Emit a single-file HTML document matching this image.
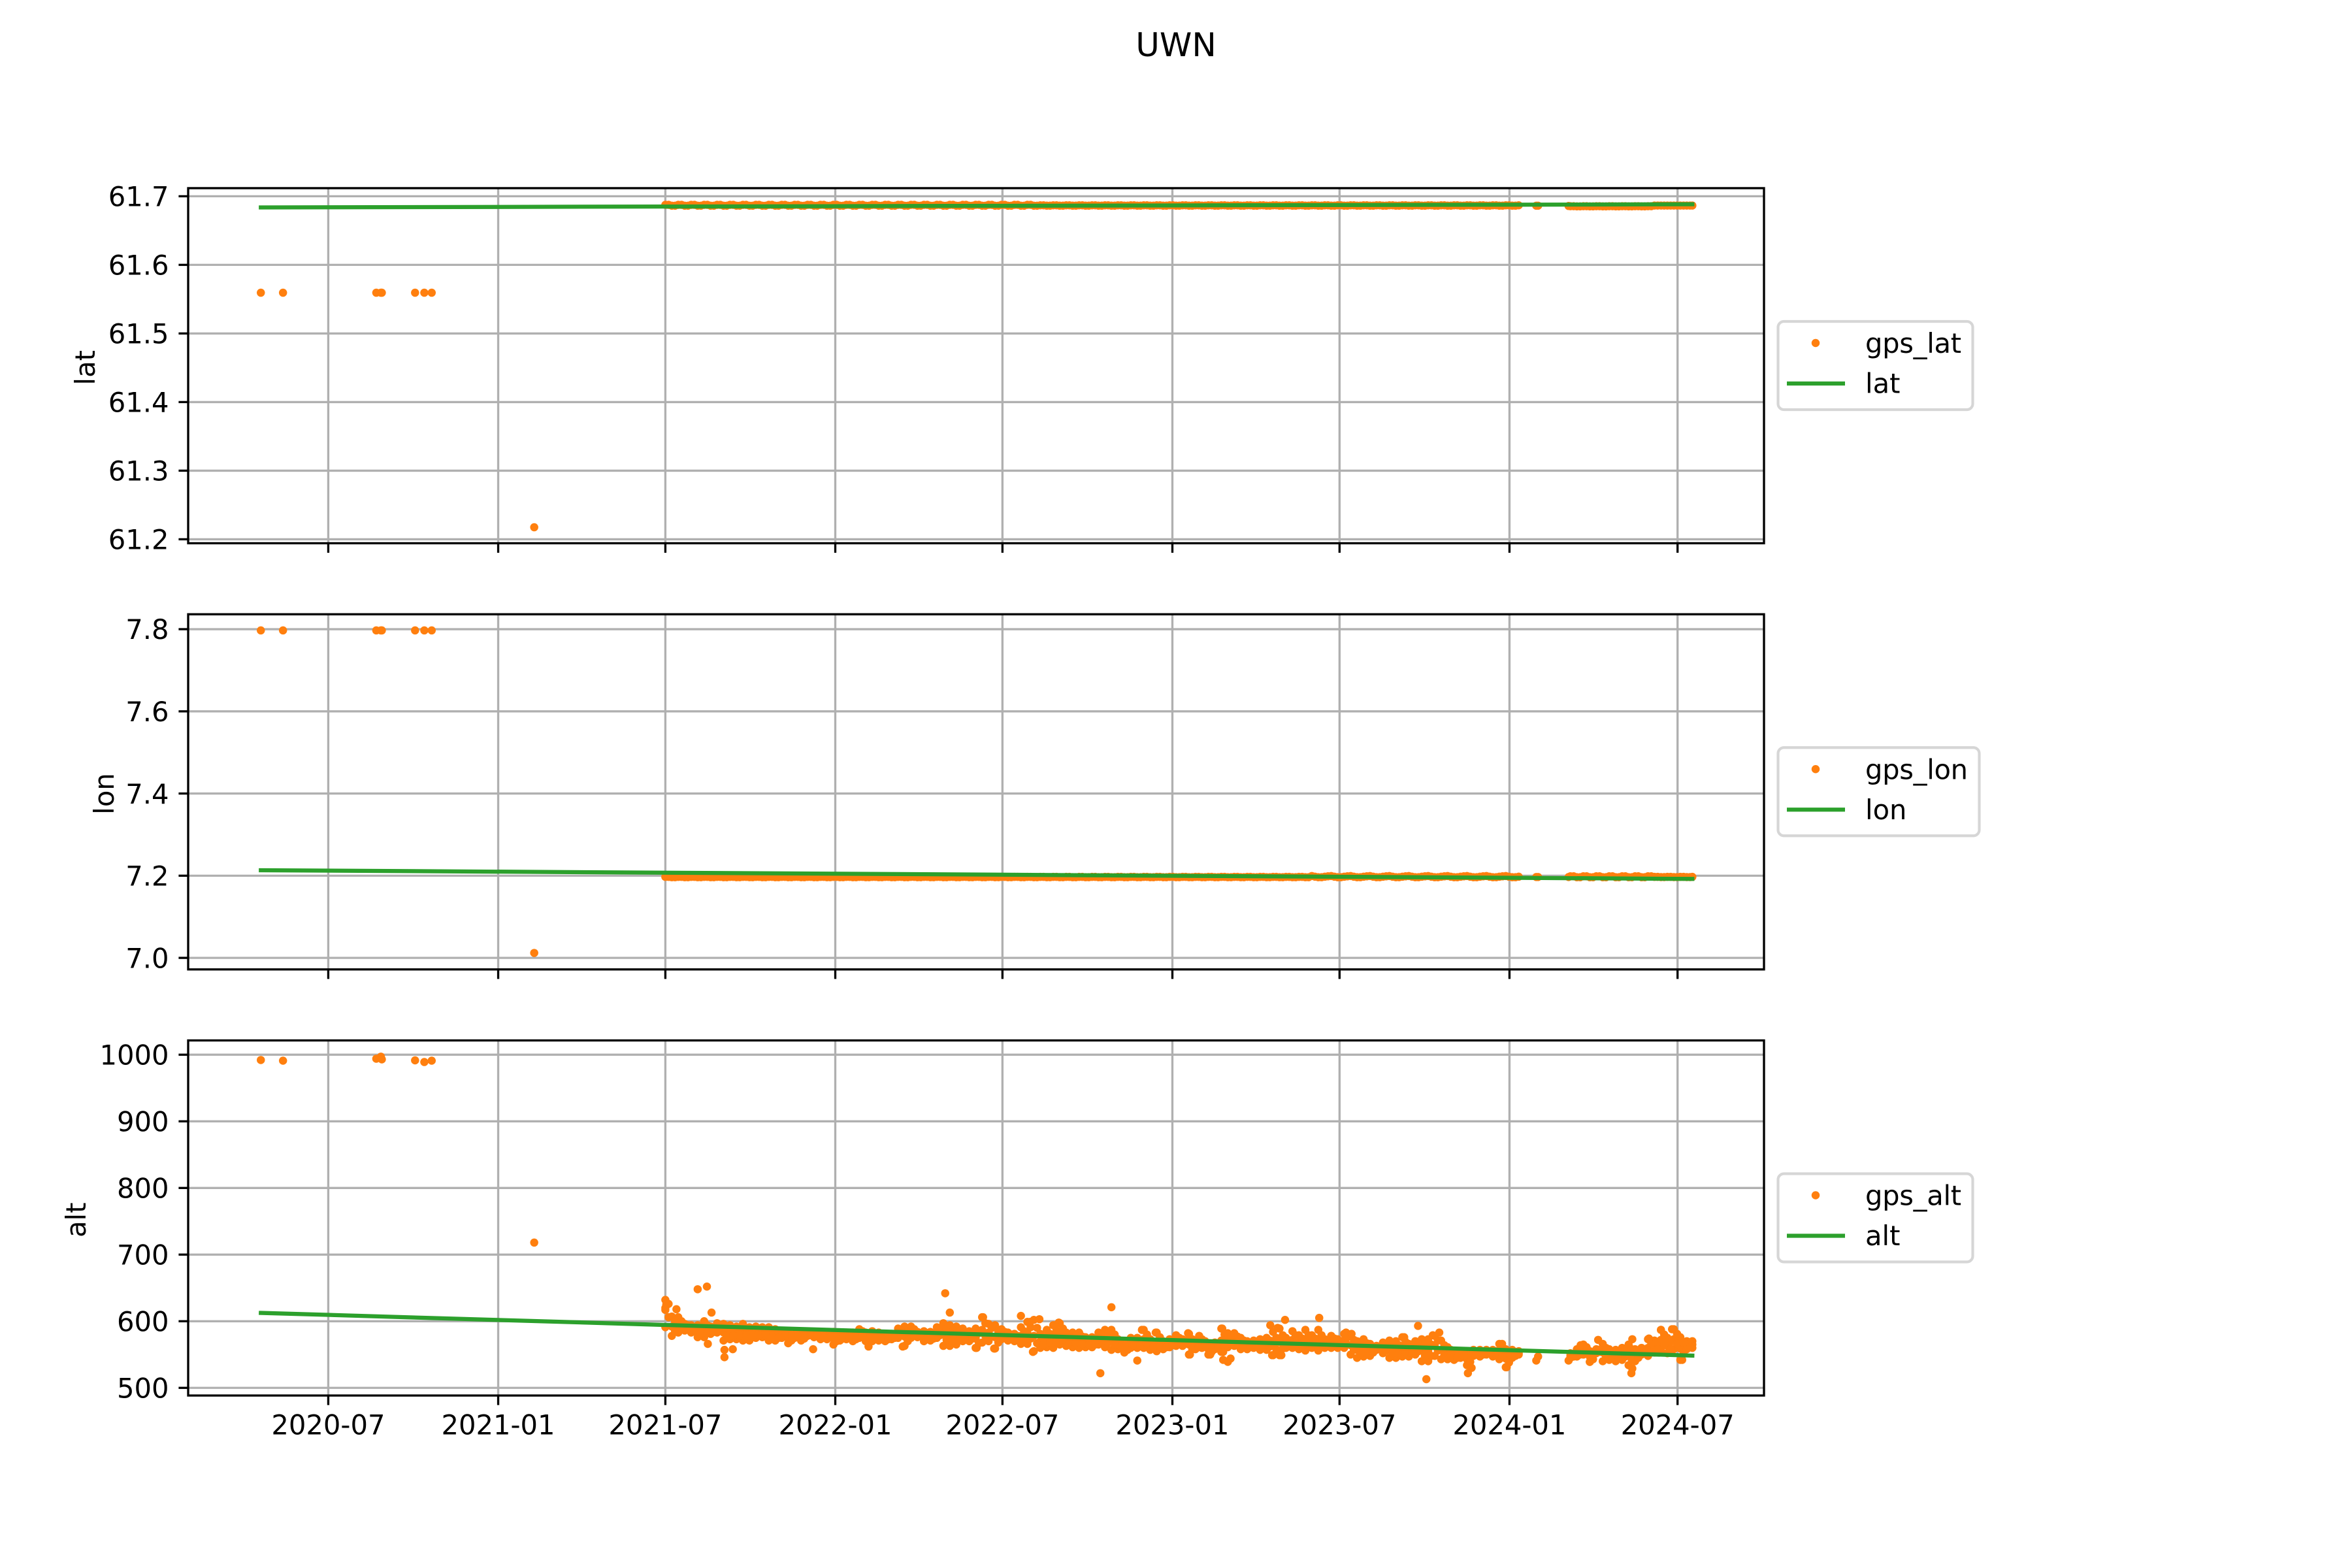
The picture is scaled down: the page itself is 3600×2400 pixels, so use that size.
<!DOCTYPE html>
<html lang="en">
<head>
<meta charset="utf-8">
<title>UWN</title>
<style>
html,body{margin:0;padding:0;background:#fff;}
svg{display:block;}
text{font-family:"DejaVu Sans","Liberation Sans",sans-serif;fill:#000;}
.tight{letter-spacing:-0.3px;}
</style>
</head>
<body>
<svg id="chart" xmlns="http://www.w3.org/2000/svg" width="3600" height="2400" viewBox="0 0 3600 2400">
  <rect x="0" y="0" width="3600" height="2400" fill="#ffffff"/>
  <text x="1800" y="86" font-size="50" text-anchor="middle">UWN</text>
  <g id="plots"></g>

  <g>
    <rect x="2721.5" y="492" width="298" height="135" rx="9" fill="#fff" stroke="#d6d6d6" stroke-width="4.17"/>
    <circle cx="2779" cy="525" r="6.25" fill="#ff7f0e"/>
    <text class="tight" x="2855" y="540" font-size="41.67">gps_lat</text>
    <line x1="2735" x2="2824" y1="587" y2="587" stroke="#2ca02c" stroke-width="6.25"/>
    <text x="2855" y="601.5" font-size="41.67">lat</text>
  </g>
  <g transform="translate(0,652.25)">
    <rect x="2721.5" y="492" width="308" height="135" rx="9" fill="#fff" stroke="#d6d6d6" stroke-width="4.17"/>
    <circle cx="2779" cy="525" r="6.25" fill="#ff7f0e"/>
    <text class="tight" x="2855" y="540" font-size="41.67">gps_lon</text>
    <line x1="2735" x2="2824" y1="587" y2="587" stroke="#2ca02c" stroke-width="6.25"/>
    <text x="2855" y="601.5" font-size="41.67">lon</text>
  </g>
  <g transform="translate(0,1304.5)">
    <rect x="2721.5" y="492" width="298" height="135" rx="9" fill="#fff" stroke="#d6d6d6" stroke-width="4.17"/>
    <circle cx="2779" cy="525" r="6.25" fill="#ff7f0e"/>
    <text class="tight" x="2855" y="540" font-size="41.67">gps_alt</text>
    <line x1="2735" x2="2824" y1="587" y2="587" stroke="#2ca02c" stroke-width="6.25"/>
    <text x="2855" y="601.5" font-size="41.67">alt</text>
  </g>
</svg>

<script>
// All days are counted from 2021-07-01.
const x_tick_days = [-365,-181,0,184,365,549,730,914,1096];
const x_tick_labels = ["2020-07","2021-01","2021-07","2022-01","2022-07","2023-01","2023-07","2024-01","2024-07"];
const lat_ticks = [61.2,61.3,61.4,61.5,61.6,61.7];
const lat_tick_labels = ["61.2","61.3","61.4","61.5","61.6","61.7"];
const lon_ticks = [7.0,7.2,7.4,7.6,7.8];
const lon_tick_labels = ["7.0","7.2","7.4","7.6","7.8"];
const alt_ticks = [500,600,700,800,900,1000];
const alt_tick_labels = ["500","600","700","800","900","1000"];

// Fitted trend lines
const line_days = [-438,1112];
const line_lat = [61.6837,61.6883];
const line_lon = [7.2133,7.1922];
const line_alt = [612.5,548.4];

// Isolated early GPS fixes
const early_days = [-438,-414,-313,-308,-307,-271,-261,-253,-142];
const early_lat = [61.5594,61.5594,61.5594,61.5594,61.5594,61.5594,61.5594,61.5594,61.2175];
const early_lon = [7.797,7.797,7.797,7.797,7.797,7.797,7.797,7.797,7.012];
const early_alt = [992,991,994,997,993,991.5,989,991,718];

// Lone fixes inside the early-2024 gap
const lone_days = [943,945,978];
const lone_lat = [61.6862,61.6862,61.6858];
const lone_lon = [7.1968,7.1968,7.1968];

// Main GPS record, weekly readings
const sample_days = [
0,7,14,21,28,35,42,49,56,63,
70,77,84,91,98,105,112,119,126,133,
140,147,154,161,168,175,182,189,196,203,
210,217,224,231,238,245,252,259,266,273,
280,287,294,301,308,315,322,329,336,343,
350,357,364,371,378,385,392,399,406,413,
420,427,434,441,448,455,462,469,476,483,
490,497,504,511,518,525,532,539,546,553,
560,567,574,581,588,595,602,609,616,623,
630,637,644,651,658,665,672,679,686,693,
700,707,714,721,728,735,742,749,756,763,
770,777,784,791,798,805,812,819,826,833,
840,847,854,861,868,875,882,889,896,903,
910,917,924,931,938,945,952,959,966,973,
980,987,994,1001,1008,1015,1022,1029,1036,1043,
1050,1057,1064,1071,1078,1085,1092,1099,1106,1112];

const sample_lat = [
61.6875,61.6862,61.6875,61.6862,61.6875,61.6862,61.6875,61.6862,61.6875,61.6862,
61.6875,61.6862,61.6875,61.6862,61.6875,61.6862,61.6875,61.6862,61.6875,61.6862,
61.6875,61.6862,61.6875,61.6862,61.6875,61.6862,61.6875,61.6862,61.6875,61.6862,
61.6875,61.6862,61.6875,61.6862,61.6875,61.6862,61.6875,61.6862,61.6875,61.6862,
61.6875,61.6862,61.6875,61.6862,61.6875,61.6862,61.6875,61.6862,61.6875,61.6862,
61.6875,61.6862,61.6875,61.6862,61.6875,61.6862,61.6875,61.6862,61.6868,61.6863,
61.6868,61.6863,61.6868,61.6863,61.6868,61.6863,61.6868,61.6863,61.6868,61.6863,
61.6868,61.6863,61.6868,61.6863,61.6868,61.6863,61.6868,61.6863,61.6868,61.6863,
61.6868,61.6863,61.6868,61.6863,61.6868,61.6863,61.6868,61.6863,61.6868,61.6863,
61.6868,61.6863,61.6868,61.6863,61.6868,61.6863,61.6868,61.6863,61.6868,61.6863,
61.6868,61.6863,61.6868,61.6863,61.6868,61.6863,61.6868,61.6863,61.6868,61.6863,
61.6868,61.6863,61.6868,61.6863,61.6868,61.6863,61.6868,61.6863,61.6868,61.6863,
61.6868,61.6863,61.6868,61.6863,61.6868,61.6863,61.6868,61.6863,61.6868,61.6863,
61.6868,61.6863,61.6868,null,null,null,null,null,null,null,
61.6855,61.6853,61.6855,61.6853,61.6855,61.6853,61.6855,61.6853,61.6855,61.6853,
61.6855,61.6853,61.6855,61.6865,61.6865,61.6865,61.6865,61.6865,61.6865,61.6865];

const sample_lon = [
7.1971,7.1963,7.1971,7.1963,7.1971,7.1963,7.1971,7.1963,7.1971,7.1963,
7.1971,7.1963,7.1971,7.1963,7.1971,7.1963,7.1971,7.1963,7.1971,7.1963,
7.1971,7.1963,7.1971,7.1963,7.1971,7.1963,7.1971,7.1963,7.1971,7.1963,
7.1971,7.1963,7.1971,7.1963,7.1971,7.1963,7.1971,7.1963,7.1971,7.1963,
7.1971,7.1963,7.1971,7.1963,7.1971,7.1963,7.1971,7.1963,7.1971,7.1963,
7.1971,7.1963,7.1971,7.1963,7.1971,7.1963,7.1971,7.1963,7.1971,7.1963,
7.1971,7.1963,7.1971,7.1963,7.1971,7.1963,7.1971,7.1963,7.1971,7.1963,
7.1971,7.1963,7.1971,7.1963,7.1971,7.1963,7.1971,7.1963,7.1971,7.1963,
7.1971,7.1963,7.1971,7.1963,7.1971,7.1963,7.1971,7.1963,7.1971,7.1963,
7.1971,7.1963,7.1971,7.1963,7.1971,7.1963,7.1971,7.1963,7.1971,7.1963,
7.1992,7.1963,7.1975,7.1992,7.1963,7.1975,7.1992,7.1963,7.1975,7.1992,
7.1963,7.1975,7.1992,7.1963,7.1975,7.1992,7.1963,7.1975,7.1992,7.1963,
7.1975,7.1992,7.1963,7.1975,7.1992,7.1963,7.1975,7.1992,7.1963,7.1975,
7.1992,7.1963,7.1975,null,null,null,null,null,null,null,
7.1986,7.1963,7.1986,7.1963,7.1986,7.1963,7.1986,7.1963,7.1986,7.1963,
7.1986,7.1963,7.1986,7.1971,7.1966,7.1971,7.1966,7.1971,7.1966,7.1971];

const sample_alt_upper = [
632,607,606,596,594,594,600,592,597,596,
594,592,596,591,592,591,591,588,584,583,
581,581,583,583,581,583,584,583,583,583,
588,583,585,583,581,581,589,592,592,584,
585,584,591,597,594,592,589,585,589,606,
596,594,588,583,581,591,599,602,581,587,
594,597,583,583,583,576,576,583,587,587,
573,570,575,575,587,573,583,570,573,579,
573,581,571,573,567,568,589,582,582,575,
570,571,573,575,584,589,575,585,579,587,
579,587,573,578,573,581,579,570,573,566,
563,568,571,570,576,566,570,573,573,578,
571,561,555,555,552,557,557,557,557,566,
558,557,555,null,null,null,null,null,null,null,
552,558,565,555,558,566,558,557,560,565,
558,560,573,571,587,575,588,576,570,570];

const sample_alt_middle = [
620,592,594,591,588,585,588,586,590,583,
583,582,583,581,583,583,581,579,579,575,
578,576,580,579,577,578,574,577,578,576,
581,576,577,577,575,577,582,577,583,580,
577,577,583,580,578,578,579,577,574,587,
583,576,580,577,575,578,582,578,570,574,
577,581,573,572,571,568,568,574,574,572,
565,561,567,567,573,565,569,564,567,571,
568,565,564,566,558,563,571,571,572,566,
564,565,565,566,566,569,567,572,568,571,
569,571,566,569,566,570,564,557,560,557,
560,560,558,557,561,556,560,556,556,563,
557,553,548,550,543,552,552,553,552,554,
544,551,552,null,null,null,null,null,null,null,
548,552,557,547,555,553,550,548,551,550,
549,555,560,562,572,563,573,559,564,565];

const sample_alt_lower = [
591,578,583,586,583,576,576,581,583,571,
573,573,571,571,575,576,571,571,575,567,
575,571,578,576,573,573,565,571,573,570,
575,570,570,571,570,573,575,563,575,576,
570,571,575,563,563,565,570,570,560,568,
570,559,573,571,570,566,566,555,560,561,
560,565,563,561,560,561,561,565,561,557,
558,553,560,560,560,557,555,558,561,563,
563,550,558,560,550,558,554,561,563,558,
558,560,557,557,549,549,560,560,558,556,
560,556,560,560,560,560,550,545,547,548,
557,552,545,545,547,547,550,540,540,548,
543,543,542,545,534,548,547,550,547,543,
531,545,550,null,null,null,null,null,null,null,
545,547,550,539,552,540,542,540,542,534,
540,550,548,553,557,552,558,542,558,560];

// Main GPS record, readings between the weekly ones
const between_days = [
3.5,10.5,17.5,24.5,31.5,38.5,45.5,52.5,59.5,66.5,
73.5,80.5,87.5,94.5,101.5,108.5,115.5,122.5,129.5,136.5,
143.5,150.5,157.5,164.5,171.5,178.5,185.5,192.5,199.5,206.5,
213.5,220.5,227.5,234.5,241.5,248.5,255.5,262.5,269.5,276.5,
283.5,290.5,297.5,304.5,311.5,318.5,325.5,332.5,339.5,346.5,
353.5,360.5,367.5,374.5,381.5,388.5,395.5,402.5,409.5,416.5,
423.5,430.5,437.5,444.5,451.5,458.5,465.5,472.5,479.5,486.5,
493.5,500.5,507.5,514.5,521.5,528.5,535.5,542.5,549.5,556.5,
563.5,570.5,577.5,584.5,591.5,598.5,605.5,612.5,619.5,626.5,
633.5,640.5,647.5,654.5,661.5,668.5,675.5,682.5,689.5,696.5,
703.5,710.5,717.5,724.5,731.5,738.5,745.5,752.5,759.5,766.5,
773.5,780.5,787.5,794.5,801.5,808.5,815.5,822.5,829.5,836.5,
843.5,850.5,857.5,864.5,871.5,878.5,885.5,892.5,899.5,906.5,
913.5,920.5,927.5,934.5,941.5,948.5,955.5,962.5,969.5,976.5,
983.5,990.5,997.5,1004.5,1011.5,1018.5,1025.5,1032.5,1039.5,1046.5,
1053.5,1060.5,1067.5,1074.5,1081.5,1088.5,1095.5,1102.5,1109.5];

const between_lat = [
61.6875,61.6862,61.6875,61.6862,61.6875,61.6862,61.6875,61.6862,61.6875,61.6862,
61.6875,61.6862,61.6875,61.6862,61.6875,61.6862,61.6875,61.6862,61.6875,61.6862,
61.6875,61.6862,61.6875,61.6862,61.6875,61.6862,61.6875,61.6862,61.6875,61.6862,
61.6875,61.6862,61.6875,61.6862,61.6875,61.6862,61.6875,61.6862,61.6875,61.6862,
61.6875,61.6862,61.6875,61.6862,61.6875,61.6862,61.6875,61.6862,61.6875,61.6862,
61.6875,61.6862,61.6875,61.6862,61.6875,61.6862,61.6875,61.6862,61.6868,61.6863,
61.6868,61.6863,61.6868,61.6863,61.6868,61.6863,61.6868,61.6863,61.6868,61.6863,
61.6868,61.6863,61.6868,61.6863,61.6868,61.6863,61.6868,61.6863,61.6868,61.6863,
61.6868,61.6863,61.6868,61.6863,61.6868,61.6863,61.6868,61.6863,61.6868,61.6863,
61.6868,61.6863,61.6868,61.6863,61.6868,61.6863,61.6868,61.6863,61.6868,61.6863,
61.6868,61.6863,61.6868,61.6863,61.6868,61.6863,61.6868,61.6863,61.6868,61.6863,
61.6868,61.6863,61.6868,61.6863,61.6868,61.6863,61.6868,61.6863,61.6868,61.6863,
61.6868,61.6863,61.6868,61.6863,61.6868,61.6863,61.6868,61.6863,61.6868,61.6863,
61.6868,61.6863,null,null,null,null,null,null,null,null,
61.6855,61.6853,61.6855,61.6853,61.6855,61.6853,61.6855,61.6853,61.6855,61.6853,
61.6855,61.6853,61.6855,61.6865,61.6865,61.6865,61.6865,61.6865,61.6865];

const between_lon = [
7.1971,7.1963,7.1971,7.1963,7.1971,7.1963,7.1971,7.1963,7.1971,7.1963,
7.1971,7.1963,7.1971,7.1963,7.1971,7.1963,7.1971,7.1963,7.1971,7.1963,
7.1971,7.1963,7.1971,7.1963,7.1971,7.1963,7.1971,7.1963,7.1971,7.1963,
7.1971,7.1963,7.1971,7.1963,7.1971,7.1963,7.1971,7.1963,7.1971,7.1963,
7.1971,7.1963,7.1971,7.1963,7.1971,7.1963,7.1971,7.1963,7.1971,7.1963,
7.1971,7.1963,7.1971,7.1963,7.1971,7.1963,7.1971,7.1963,7.1971,7.1963,
7.1971,7.1963,7.1971,7.1963,7.1971,7.1963,7.1971,7.1963,7.1971,7.1963,
7.1971,7.1963,7.1971,7.1963,7.1971,7.1963,7.1971,7.1963,7.1971,7.1963,
7.1971,7.1963,7.1971,7.1963,7.1971,7.1963,7.1971,7.1963,7.1971,7.1963,
7.1971,7.1963,7.1971,7.1963,7.1971,7.1963,7.1971,7.1963,7.1971,7.1963,
7.1975,7.1963,7.1985,7.1975,7.1963,7.1985,7.1975,7.1963,7.1985,7.1975,
7.1963,7.1985,7.1975,7.1963,7.1985,7.1975,7.1963,7.1985,7.1975,7.1963,
7.1985,7.1975,7.1963,7.1985,7.1975,7.1963,7.1985,7.1975,7.1963,7.1985,
7.1975,7.1963,null,null,null,null,null,null,null,null,
7.1986,7.1963,7.1986,7.1963,7.1986,7.1963,7.1986,7.1963,7.1986,7.1963,
7.1986,7.1963,7.1986,7.1971,7.1966,7.1971,7.1966,7.1971,7.1966];

const between_alt_upper = [
626,600,600,594,591,590,594,589,594,590,
588,587,590,586,588,587,586,584,582,579,
580,579,582,581,579,581,579,580,581,580,
585,580,581,580,578,579,586,585,588,582,
581,581,587,589,586,585,584,581,582,597,
590,585,584,580,578,585,591,590,576,581,
586,589,578,578,577,572,572,579,581,580,
569,566,571,571,580,569,576,567,570,575,
571,573,568,570,563,566,580,577,577,571,
567,568,569,571,575,579,571,579,574,579,
574,579,570,574,570,576,572,564,567,562,
562,564,565,564,569,561,565,565,565,571,
564,557,552,553,548,555,555,555,555,560,
551,554,null,null,null,null,null,null,null,null,
550,555,561,551,557,560,554,553,556,558,
554,558,567,567,580,569,581,568,567];

const between_alt_lower = [
606,585,589,589,586,581,582,584,587,577,
578,578,577,576,579,580,576,575,577,571,
577,574,579,578,575,576,570,574,576,573,
578,573,574,574,573,575,579,570,579,578,
574,574,579,572,571,572,575,574,567,578,
577,568,577,574,573,572,574,567,565,568,
569,573,568,567,566,565,565,570,568,565,
562,557,564,564,567,561,562,561,564,567,
566,558,561,563,554,561,563,566,568,562,
561,563,561,562,558,559,564,566,563,564,
565,564,563,565,563,565,557,551,554,553,
559,556,552,551,554,552,555,548,548,556,
550,548,545,548,539,550,550,552,550,549,
538,548,null,null,null,null,null,null,null,null,
547,550,554,543,554,547,546,544,547,542,
545,553,554,558,565,558,566,551,561];

// Altitude readings that sit away from the main band
const outlier_days = [1,0,12,35,45,50,46,64,73,64,160,220,257,303,308,344,385,405,395,426,422,483,471,511,516,531,356,337,398,567,566,578,568,590,603,604,604,609,612,655,663,671,657,667,708,815,838,831,824,800,737,743,869,873,906,911,943,945,978,991,1010,1001,1047,1047,1046,1065,1078,1090,1101];
const outlier_alt = [625,617,618,648,652,613,566,557,558,546,558,562,562,642,613,606,608,603,599,598,594,621,522,541,587,583,559,560,554,550,582,578,550,550,589,554,542,539,544,594,590,602,549,549,605,593,583,579,513,576,583,581,522,530,566,531,541,547,541,564,572,539,573,529,522,574,587,588,542];

const SVG_NS = 'http://www.w3.org/2000/svg';
const plots = document.getElementById('plots');
const AX_LEFT = 288, AX_RIGHT = 2700;
const X_DAY_MIN = -516.7, X_DAY_MAX = 1189.6;

function xScale(day) {
  return AX_LEFT + (day - X_DAY_MIN) / (X_DAY_MAX - X_DAY_MIN) * (AX_RIGHT - AX_LEFT);
}
function linearY(top, bottom, vTop, vBottom) {
  return function (v) { return top + (vTop - v) / (vTop - vBottom) * (bottom - top); };
}
function drawGridLine(parent, x1, y1, x2, y2, name) {
  const el = document.createElementNS(SVG_NS, 'line');
  el.setAttribute('x1', x1); el.setAttribute('y1', y1);
  el.setAttribute('x2', x2); el.setAttribute('y2', y2);
  el.setAttribute('stroke', '#b0b0b0');
  el.setAttribute('stroke-width', '3.33');
  
  
  parent.appendChild(el);
}
function drawTick(parent, x1, y1, x2, y2, name) {
  const el = document.createElementNS(SVG_NS, 'line');
  el.setAttribute('x1', x1); el.setAttribute('y1', y1);
  el.setAttribute('x2', x2); el.setAttribute('y2', y2);
  el.setAttribute('stroke', '#000');
  el.setAttribute('stroke-width', '3.33');
  
  
  parent.appendChild(el);
}
function drawLabel(parent, x, y, str, anchor, name) {
  const el = document.createElementNS(SVG_NS, 'text');
  el.setAttribute('x', x); el.setAttribute('y', y);
  el.setAttribute('font-size', '41.67');
  el.setAttribute('text-anchor', anchor);
  el.textContent = str;
  
  
  parent.appendChild(el);
  return el;
}
function drawDots(parent, days, values, yScale) {
  for (let i = 0; i < days.length; i++) {
    if (values[i] === null) continue;
    const el = document.createElementNS(SVG_NS, 'circle');
    el.setAttribute('cx', xScale(days[i]).toFixed(2));
    el.setAttribute('cy', yScale(values[i]).toFixed(2));
    el.setAttribute('r', '6.25');
    el.setAttribute('fill', '#ff7f0e');
    
    
    parent.appendChild(el);
  }
}
function drawPanel(panelName, top, bottom, vTop, vBottom, ticks, tickLabels, showXLabels, yTitle, yTitleX, seriesSets, lineValues) {
  const g = document.createElementNS(SVG_NS, 'g');
  
  
  plots.appendChild(g);
  const y = linearY(top, bottom, vTop, vBottom);

  x_tick_days.forEach(function (d) {
    drawGridLine(g, xScale(d), top, xScale(d), bottom, 'x-gridline');
  });
  ticks.forEach(function (v) {
    drawGridLine(g, AX_LEFT, y(v), AX_RIGHT, y(v), 'y-gridline');
  });

  seriesSets.forEach(function (s) { drawDots(g, s[0], s[1], y); });

  const trend = document.createElementNS(SVG_NS, 'line');
  trend.setAttribute('x1', xScale(line_days[0]));
  trend.setAttribute('y1', y(lineValues[0]));
  trend.setAttribute('x2', xScale(line_days[1]));
  trend.setAttribute('y2', y(lineValues[1]));
  trend.setAttribute('stroke', '#2ca02c');
  trend.setAttribute('stroke-width', '6.25');
  trend.setAttribute('stroke-linecap', 'square');
  
  
  g.appendChild(trend);

  const frame = document.createElementNS(SVG_NS, 'rect');
  frame.setAttribute('x', AX_LEFT);
  frame.setAttribute('y', top);
  frame.setAttribute('width', AX_RIGHT - AX_LEFT);
  frame.setAttribute('height', bottom - top);
  frame.setAttribute('fill', 'none');
  frame.setAttribute('stroke', '#000');
  frame.setAttribute('stroke-width', '3.33');
  
  
  g.appendChild(frame);

  x_tick_days.forEach(function (d, i) {
    drawTick(g, xScale(d), bottom, xScale(d), bottom + 14.6, 'x-tick');
    if (showXLabels) drawLabel(g, xScale(d), bottom + 59.5, x_tick_labels[i], 'middle', 'x-tick-label');
  });
  ticks.forEach(function (v, i) {
    drawTick(g, AX_LEFT - 14.6, y(v), AX_LEFT, y(v), 'y-tick');
    drawLabel(g, 258.5, y(v) + 15.2, tickLabels[i], 'end', 'y-tick-label');
  });

  const cy = (top + bottom) / 2 + 3;
  const title = drawLabel(g, yTitleX, cy, yTitle, 'middle', 'y-axis-title');
  title.setAttribute('transform', 'rotate(-90 ' + yTitleX + ' ' + cy + ')');
}

drawPanel('lat-panel', 288, 831.5, 61.7118, 61.1942, lat_ticks, lat_tick_labels, false, 'lat', 145,
  [[early_days, early_lat], [sample_days, sample_lat], [between_days, between_lat], [lone_days, lone_lat]], line_lat);
drawPanel('lon-panel', 940.2, 1483.8, 7.8363, 6.9719, lon_ticks, lon_tick_labels, false, 'lon', 174,
  [[early_days, early_lon], [sample_days, sample_lon], [between_days, between_lon], [lone_days, lone_lon]], line_lon);
drawPanel('alt-panel', 1592.5, 2136, 1021.4, 488.5, alt_ticks, alt_tick_labels, true, 'alt', 131,
  [[early_days, early_alt], [sample_days, sample_alt_upper], [sample_days, sample_alt_middle], [sample_days, sample_alt_lower], [between_days, between_alt_upper], [between_days, between_alt_lower], [outlier_days, outlier_alt]], line_alt);
</script>
</body>
</html>
